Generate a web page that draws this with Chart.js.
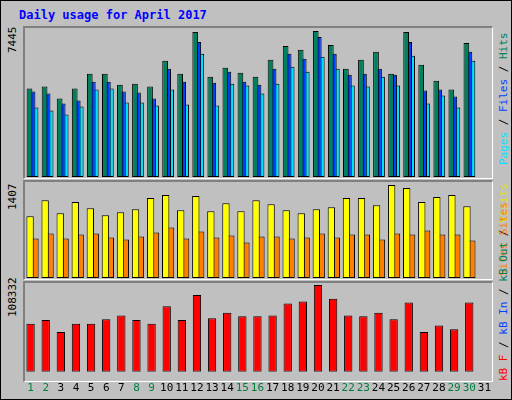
<!DOCTYPE html>
<html><head><meta charset="utf-8">
<script src="https://cdn.jsdelivr.net/npm/chart.js@4/dist/chart.umd.min.js"></script>
<style>
body{margin:0;background:#fff}
#wrap{position:absolute;left:0;top:0;width:510px;height:398px;background:#c0c0c0;border:1px solid #000}
.pane{position:absolute;left:22px;width:470px;background:#c0c0c0;border-top:2px solid #808080;border-left:2px solid #808080;border-bottom:1px solid #fff;border-right:1px solid #fff;box-sizing:border-box}
.t{position:absolute;font:bold 12px "DejaVu Sans Mono",monospace;color:#0000ff}
.rot{position:absolute;font:11px "DejaVu Sans Mono",monospace;transform:rotate(-90deg);transform-origin:left top;white-space:nowrap}
</style></head><body>
<div id="wrap">
<div class="t" style="left:18px;top:7px">Daily usage for April 2017</div>
<div class="pane" style="top:25px;height:153px"><canvas id="c1"></canvas></div>
<div class="pane" style="top:179px;height:100px"><canvas id="c2"></canvas></div>
<div class="pane" style="top:280px;height:101px"></div>
<canvas id="c3" style="position:absolute;left:22px;top:280px"></canvas>
<div class="rot" style="left:5px;top:52px;color:#000">7445</div>
<div class="rot" style="left:5px;top:209px;color:#000">1407</div>
<div class="rot" style="left:5px;top:316px;color:#000">108332</div>
<div class="rot" style="left:496px;top:164px"><span style="color:#00e0ff">Pages</span> / <span style="color:#0040ff">Files</span> / <span style="color:#00805c">Hits</span></div>
<div class="rot" style="left:496px;top:275px"><span style="color:#ff8000">Sites</span> / <span style="color:#e0e000">Visits</span></div>
<div class="rot" style="left:496px;top:380px"><span style="color:#ff0000">kB F</span> / <span style="color:#0040ff">kB In</span> / <span style="color:#00805c">kB Out</span> <span style="color:#ff8000">Sites</span></div>
</div>
<script>
const days=Array.from({length:31},(_,i)=>String(i+1));
const weekend=[1,2,8,9,15,16,22,23,29,30];
const hits=[4508,4609,4001,4508,5268,5268,4710,4761,4609,5926,5268,7400,5116,5572,5318,5116,5977,6686,6483,7445,6736,5521,5977,6382,5268,7400,5724,4913,4457,6838];
const files=[4356,4255,3748,3900,4862,4862,4356,4305,4001,5521,4862,6888,4812,5369,4862,4710,5521,6281,6027,7142,6281,5217,5268,5521,5217,6888,4407,4457,4103,6382];
const pages=[3546,3394,3191,3596,4457,4508,3799,3799,3647,4457,3697,6281,3647,4761,4660,4255,4761,5622,5369,6129,5521,4660,4609,5116,4660,6179,3748,4153,3546,5926];
const visits=[933,1178,979,1148,1056,949,995,1040,1209,1255,1025,1239,1010,1132,1010,1178,1117,1025,979,1040,1071,1209,1209,1102,1407,1362,1148,1224,1255,1086];
const sites=[597,673,597,658,673,612,581,627,689,765,597,704,612,643,536,627,627,597,612,673,612,658,658,581,673,658,719,658,658,566];
const kbytes=[59280,63840,49020,59280,59280,64980,69540,63840,59280,80940,63840,94620,66120,72960,68400,68400,69540,84360,86640,107160,90060,69540,68400,72960,64980,85500,49020,57000,52440,85500];
function ds(d,c,cp,bp){return {data:d,backgroundColor:c,borderColor:'#000',borderWidth:1,borderSkipped:false,categoryPercentage:cp,barPercentage:bp};}
function mk(id,w,h,sets,max,showX){
  const cv=document.getElementById(id);cv.width=w;cv.height=h;cv.style.width=w+'px';cv.style.height=h+'px';
  new Chart(cv,{type:'bar',data:{labels:days,datasets:sets},options:{responsive:false,animation:false,
    layout:{padding:{top:3,bottom:showX?0:1,left:0,right:0}},
    plugins:{legend:{display:false},tooltip:{enabled:false}},
    scales:{y:{display:false,min:0,max:max},
      x:{display:showX,grid:{display:false},border:{display:false},
        ticks:{padding:2,font:{family:'DejaVu Sans Mono',size:11},autoSkip:false,maxRotation:0,
          color:c=>weekend.includes(c.index+1)?'#008040':'#000'}}}}});
}
mk('c1',467,150,[ds(hits,'#00805c',0.6,1.9),ds(files,'#0040ff',0.6,1.9),ds(pages,'#00e0ff',0.6,1.9)],7445,false);
mk('c2',467,97,[ds(visits,'#ffff00',0.65,1.5),ds(sites,'#ff8000',0.65,1.5)],1407,false);
mk('c3',470,116,[ds(kbytes,'#ff0000',0.55,1)],108332,true);
</script>
</body></html>
